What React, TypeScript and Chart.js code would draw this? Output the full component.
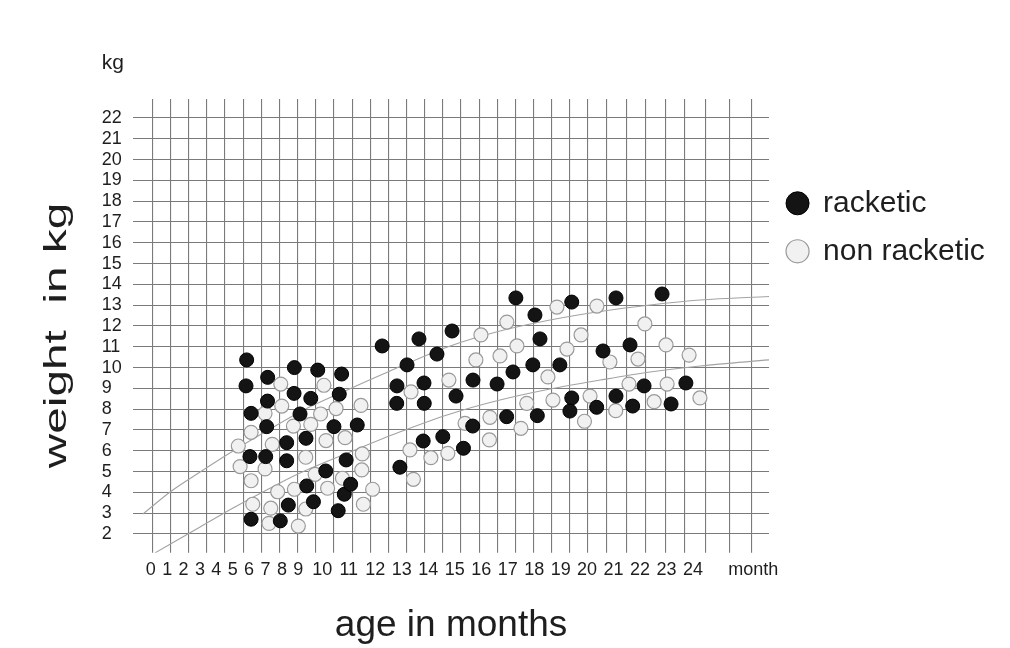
import React, { useEffect, useRef } from 'react';
import { Chart, registerables, LinearScale } from 'chart.js';

Chart.register(...registerables);

const FONT = '"Liberation Sans", Arial, Helvetica, sans-serif';

// ---------- data (age in months, weight in kg) ----------
const racketicAgeMonths = [
  5.85, 5.81, 6.12, 6.05, 6.12, 7.13, 7.12, 7.07, 7.01, 7.9, 8.29, 8.29, 8.39, 8.76, 8.74, 9.07, 9.52,
  9.32, 9.35, 9.63, 9.81, 10.13, 10.44, 10.6, 10.64, 10.73, 10.9, 10.83, 11.32, 11.07, 12.26, 12.81,
  12.82, 13.2, 12.93, 13.65, 13.84, 13.85, 13.81, 14.33, 14.55, 14.9, 15.05, 15.33, 15.68, 15.69, 16.6,
  16.96, 17.2, 17.31, 18.03, 18.22, 17.95, 18.12, 18.97, 19.42, 19.42, 19.35, 20.36, 20.6, 21.09, 21.09,
  21.62, 21.72, 22.15, 22.83, 23.17, 23.73,
];
const racketicWeightKg = [
  10.37, 9.12, 7.8, 5.72, 2.71, 9.53, 8.39, 7.16, 5.72, 2.63, 6.39, 5.52, 3.39, 10.0, 8.76, 7.77, 8.52,
  6.6, 4.31, 3.55, 9.88, 5.03, 7.16, 3.12, 8.72, 9.69, 5.56, 3.91, 7.24, 4.39, 11.04, 8.28, 9.12, 10.13,
  5.21, 11.38, 9.26, 8.28, 6.47, 10.65, 6.68, 11.76, 8.63, 6.12, 7.19, 9.4, 9.21, 7.64, 9.79, 13.35,
  12.53, 11.38, 10.13, 7.69, 10.13, 13.15, 8.54, 7.91, 8.09, 10.8, 13.35, 8.63, 11.09, 8.15, 9.12, 13.54,
  8.25, 9.26,
];
const nonRacketicAgeMonths = [
  5.34, 5.45, 6.12, 6.12, 6.22, 6.97, 6.97, 7.21, 7.32, 7.41, 7.74, 7.93, 7.99, 8.7, 8.76, 9.0, 9.31,
  9.31, 9.52, 9.7, 9.93, 10.06, 10.14, 10.2, 10.52, 10.76, 10.86, 11.46, 11.51, 11.49, 11.55, 11.9,
  13.31, 13.44, 13.35, 14.1, 14.74, 14.78, 15.39, 15.8, 15.99, 16.31, 16.33, 16.71, 16.97, 17.35, 17.5,
  17.72, 18.52, 18.71, 18.86, 19.24, 19.77, 19.9, 20.11, 20.37, 20.86, 21.08, 21.58, 21.92, 22.18, 22.53,
  22.98, 23.02, 23.85, 24.26,
];
const nonRacketicWeightKg = [
  6.23, 5.24, 6.89, 4.56, 3.43, 7.8, 5.13, 2.51, 3.24, 6.31, 4.03, 9.21, 8.15, 7.19, 4.15, 2.38, 5.69,
  3.2, 7.27, 4.87, 7.77, 9.15, 6.49, 4.2, 8.03, 4.68, 6.63, 8.18, 5.85, 5.08, 3.43, 4.15, 6.04, 4.63,
  8.83, 5.67, 5.88, 9.4, 7.32, 10.37, 11.57, 6.52, 7.61, 10.56, 12.19, 11.04, 7.08, 8.28, 9.55, 8.44,
  12.91, 10.89, 11.57, 7.42, 8.63, 12.96, 10.27, 7.93, 9.21, 10.41, 12.1, 8.36, 11.09, 9.21, 10.6, 8.54,
];

// reference growth curves
const upperCurveAgeMonths = [-0.47, 1.18, 3.01, 5.02, 7.07, 9.07, 10.86, 12.56, 14.83, 16.71, 18.6, 20.49, 22.38, 24.27, 26.87];
const upperCurveWeightKg = [2.96, 4.02, 4.98, 5.99, 6.95, 7.87, 8.88, 9.84, 11.04, 11.76, 12.29, 12.7, 13.01, 13.25, 13.42];
const lowerCurveAgeMonths = [0.26, 3.01, 5.02, 7.07, 9.07, 11.05, 12.92, 14.83, 16.71, 18.6, 20.49, 22.38, 24.27, 26.87];
const lowerCurveWeightKg = [1.09, 2.34, 3.25, 4.12, 4.93, 5.94, 6.9, 7.77, 8.44, 8.97, 9.4, 9.79, 10.08, 10.37];

// axis ticks
const monthTickValues = [0, 1, 2, 3, 4, 5, 6, 7, 8, 9, 10, 11, 12, 13, 14, 15, 16, 17, 18, 19, 20, 21, 22, 23, 24];
const monthUnitTickValue = 26.27;
const weightTickValues = [2, 3, 4, 5, 6, 7, 8, 9, 10, 11, 12, 13, 14, 15, 16, 17, 18, 19, 20, 21, 22];
// graph-paper columns (independent of the month labels)
const gridColumnValues = [
  1.06, 2.06, 3.06, 4.06, 5.06, 6.06, 7.06, 8.06, 9.06, 10.06, 11.06, 12.06, 13.06, 14.06, 15.06, 16.06,
  17.06, 18.06, 19.06, 20.06, 21.06, 22.06, 23.06, 24.06, 25.04, 26.08, 27.15, 28.21, 29.3, 30.36, 31.55,
  32.82, 34.07,
];

// month axis: 0-9 are compressed, 10+ are wider (as typed in the original)
const MONTH_MIN = -1.08;
const MONTH_MAX = 26.87;
const monthAxisKnots: [number, number][] = [[MONTH_MIN, 0], [9, 0.2599], [10, 0.2976], [MONTH_MAX, 1]];

function mapKnots(v: number, from: 0 | 1, to: 0 | 1) {
  const k = monthAxisKnots;
  let i = 0;
  if (v <= k[0][from]) i = 0;
  else if (v >= k[k.length - 1][from]) i = k.length - 2;
  else {
    while (i < k.length - 2 && v > k[i + 1][from]) i++;
  }
  const a = k[i];
  const b = k[i + 1];
  const t = (v - a[from]) / (b[from] - a[from]);
  return a[to] + t * (b[to] - a[to]);
}

class PiecewiseMonthScale extends LinearScale {
  static id = 'piecewiseMonth';
  static defaults = LinearScale.defaults;
  getPixelForValue(value: any) {
    if (value === null || value === undefined || isNaN(value)) return NaN;
    return this.getPixelForDecimal(mapKnots(+value, 0, 1));
  }
  getValueForPixel(pixel: number) {
    return mapKnots(this.getDecimalForPixel(pixel), 1, 0);
  }
}
Chart.register(PiecewiseMonthScale as any);

const GRID = '#7a7a7a';
const TEXT = '#1e1e1e';

const yTitlePlugin = {
  id: 'yTitle',
  afterDraw(chart: any) {
    const ctx = chart.ctx as CanvasRenderingContext2D;
    ctx.save();
    ctx.fillStyle = TEXT;
    ctx.font = `31px ${FONT}`;
    ctx.textAlign = 'center';
    ctx.textBaseline = 'alphabetic';
    ctx.translate(65.7, 335.5);
    ctx.rotate(-Math.PI / 2);
    ctx.scale(1.54, 1);
    ctx.fillText('weight  in kg', 0, 0);
    ctx.restore();
  },
};

export default function App() {
  const ref = useRef<HTMLCanvasElement>(null);

  useEffect(() => {
    document.body.style.margin = '0';
    Chart.defaults.font.family = FONT;
    const toPoints = (xs: number[], ys: number[]) => xs.map((x, i) => ({ x, y: ys[i] }));

    const chart = new Chart(ref.current as HTMLCanvasElement, {
      type: 'scatter',
      data: {
        datasets: [
          {
            label: 'racketic',
            data: toPoints(racketicAgeMonths, racketicWeightKg),
            backgroundColor: '#141414',
            borderColor: '#000000',
            pointBackgroundColor: '#141414',
            pointBorderColor: '#000000',
            pointBorderWidth: 1,
            borderWidth: 1,
            pointRadius: 7,
            xAxisID: 'x',
            yAxisID: 'y',
            order: 0,
          },
          {
            label: 'non racketic',
            data: toPoints(nonRacketicAgeMonths, nonRacketicWeightKg),
            backgroundColor: '#f1f1f1',
            borderColor: '#9a9a9a',
            pointBackgroundColor: '#f1f1f1',
            pointBorderColor: '#9a9a9a',
            pointBorderWidth: 1.2,
            borderWidth: 1.2,
            pointRadius: 7,
            xAxisID: 'x',
            yAxisID: 'y',
            order: 1,
          },
          {
            label: 'upper curve',
            data: toPoints(upperCurveAgeMonths, upperCurveWeightKg),
            showLine: true,
            borderColor: '#a3a3a3',
            borderWidth: 1.1,
            pointRadius: 0,
            cubicInterpolationMode: 'monotone',
            xAxisID: 'x',
            yAxisID: 'y',
            order: 2,
          } as any,
          {
            label: 'lower curve',
            data: toPoints(lowerCurveAgeMonths, lowerCurveWeightKg),
            showLine: true,
            borderColor: '#a3a3a3',
            borderWidth: 1.1,
            pointRadius: 0,
            cubicInterpolationMode: 'monotone',
            xAxisID: 'x',
            yAxisID: 'y',
            order: 3,
          } as any,
        ],
      },
      options: {
        responsive: false,
        animation: false,
        events: [],
        layout: { padding: { left: 101.7, right: 18.5, top: 0, bottom: 0 } },
        scales: {
          x: {
            type: 'piecewiseMonth' as any,
            position: 'bottom',
            min: MONTH_MIN,
            max: MONTH_MAX,
            afterBuildTicks: (axis: any) => {
              axis.ticks = [...monthTickValues, monthUnitTickValue].map((v) => ({ value: v }));
            },
            ticks: {
              autoSkip: false,
              maxRotation: 0,
              minRotation: 0,
              padding: 6.8,
              color: TEXT,
              font: { size: 18, family: FONT },
              callback: (v: any) => (v === monthUnitTickValue ? 'month' : String(v)),
            },
            grid: { display: false, drawTicks: false },
            border: { display: false },
            title: {
              display: true,
              text: 'age in months',
              color: TEXT,
              font: { size: 37, family: FONT },
              padding: { top: 15.7, bottom: 0 },
            },
          } as any,
          xGrid: {
            type: 'linear',
            position: 'top',
            min: 0,
            max: 35.02,
            afterBuildTicks: (axis: any) => {
              axis.ticks = gridColumnValues.map((v) => ({ value: v }));
            },
            ticks: { display: false },
            grid: { color: GRID, lineWidth: 1.1, drawTicks: false },
            border: { display: false },
          } as any,
          y: {
            type: 'linear',
            position: 'left',
            min: 1.1,
            max: 22.9,
            afterBuildTicks: (axis: any) => {
              axis.ticks = weightTickValues.map((v) => ({ value: v }));
            },
            ticks: {
              autoSkip: false,
              crossAlign: 'far',
              padding: 5.65,
              color: TEXT,
              font: { size: 18, family: FONT },
            },
            grid: { color: GRID, lineWidth: 1.1, drawTicks: false },
            border: { display: false },
          } as any,
        },
        plugins: {
          tooltip: { enabled: false },
          title: {
            display: true,
            text: 'kg',
            align: 'start',
            color: TEXT,
            font: { size: 21, family: FONT, weight: 'normal' },
            padding: { top: 50.9, bottom: 23.2 },
          },
          legend: {
            display: true,
            position: 'right',
            align: 'start',
            title: { display: true, text: '', padding: { top: 158.3, bottom: 0 }, font: { size: 10 } },
            labels: {
              usePointStyle: true,
              pointStyle: 'circle',
              boxWidth: 21,
              boxHeight: 16.3,
              padding: 18,
              color: TEXT,
              font: { size: 30, family: FONT },
              filter: (item: any) => item.datasetIndex < 2,
            },
          },
        },
      },
      plugins: [yTitlePlugin],
    } as any);

    return () => chart.destroy();
  }, []);

  return (
    <div style={{ width: 1010, height: 648, background: '#ffffff' }}>
      <canvas ref={ref} width={1010} height={648} style={{ display: 'block' }} />
    </div>
  );
}
